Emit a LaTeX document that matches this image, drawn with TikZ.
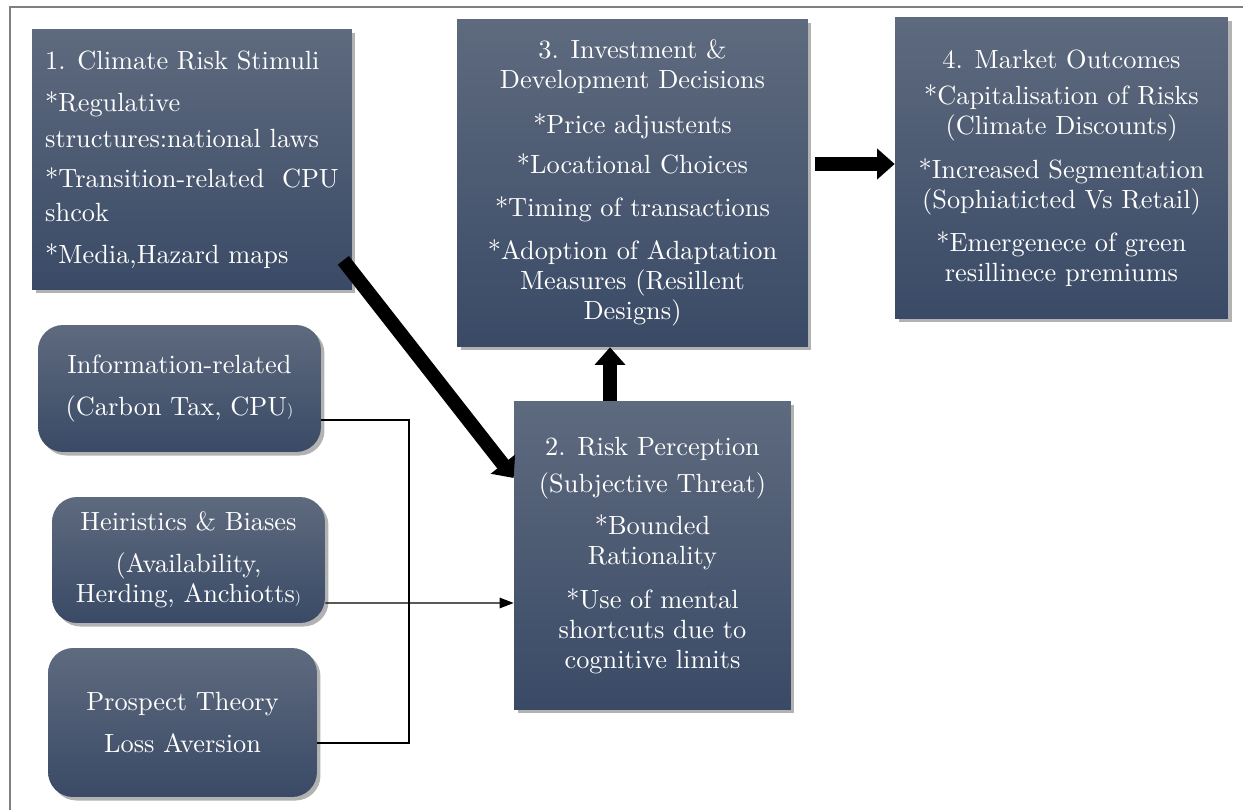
\documentclass[tikz,border=0pt]{standalone}
\usepackage{fontspec}
\setmainfont{lmroman10-regular.otf}
\usetikzlibrary{arrows.meta, positioning, calc, shadows}
\definecolor{boxtop}{HTML}{5E6A7E}
\definecolor{boxbot}{HTML}{3A4A66}
\definecolor{framegray}{HTML}{7F7F7F}
\newcommand{\smallparen}{{\fontsize{9}{9}\selectfont )}}

\begin{document}
\begin{tikzpicture}[
		x=0.02cm, y=-0.02cm,
		stage/.style={rectangle, top color=boxtop, bottom color=boxbot, text=white, align=center, inner sep=0pt, font=\rmfamily\fontsize{15}{17}\selectfont, drop shadow={shadow xshift=2pt, shadow yshift=-2pt, fill=black, opacity=0.3}},
		factor/.style={stage, rounded corners=0.5cm},
		fat/.style={line width=8pt, -{Triangle[length=10pt, width=17pt]}},
		link/.style={line width=0.7pt},
		>={Triangle[length=8pt, width=6pt]}
		]
		\useasboundingbox (0,0) rectangle (1243,810);
		\draw[framegray, line width=0.8pt] (10,810) -- (10,7) -- (1243,7);
		
		% main stages
		\node[stage, align=left, minimum width=6.4cm, minimum height=5.22cm] (stimuli) at (192,159.5) {1. Climate Risk Stimuli\\[7pt] *Regulative\\[3.5pt] structures:national laws\\[6pt] *Transition-related\ \ CPU\\[2pt] shcok\\[7pt] *Media,Hazard maps};
		\node[stage, minimum width=7.02cm, minimum height=6.56cm] (decide) at (632.5,183) {3. Investment \&\\ Development Decisions\\[8.5pt] *Price adjustents\\[6pt] *Locational Choices\\[7.5pt] *Timing of transactions\\[7.5pt] *Adoption of Adaptation\\ Measures (Resillent\\ Designs)};
		\node[stage, minimum width=6.66cm, minimum height=6.04cm] (market) at (1061.5,168) {4. Market Outcomes\\[3.5pt] *Capitalisation of Risks\\ (Climate Discounts)\\[8pt] *Increased Segmentation\\ (Sophiaticted Vs Retail)\\[7.5pt] *Emergenece of green\\ resillinece premiums};
		\node[stage, minimum width=5.54cm, minimum height=6.18cm] (percept) at (652.5,555.5) {2. Risk Perception\\[4pt] (Subjective Threat)\\[7pt] *Bounded\\ Rationality\\[8.5pt] *Use of mental\\ shortcuts due to\\ cognitive limits};
		
		% behavioural factors
		\node[factor, minimum width=5.66cm, minimum height=2.54cm] (info) at (179.5,388.5) {Information-related\\[6.5pt] (Carbon Tax, CPU\smallparen};
		\node[factor, minimum width=5.46cm, minimum height=2.52cm] (heur) at (188.5,560) {Heiristics \& Biases\\[7pt] (Availability,\\ Herding, Anchiotts\smallparen};
		\node[factor, minimum width=5.38cm, minimum height=2.98cm] (prosp) at (182.5,722.5) {Prospect Theory\\[7pt] Loss Aversion};
		
		\coordinate (join) at (409,603);
		\draw[link] ([yshift=-0.63cm]info.east) -| (join);
		\draw[link] ([yshift=-0.41cm]prosp.east) -| (join);
		\draw[link, ->] ([yshift=-0.86cm]heur.east) -- (join -| percept.west);
		
		% flow arrows
		\draw[fat] ([xshift=-0.18cm, yshift=0.6cm]stimuli.south east) -- ([yshift=1.55cm]percept.west);
		\coordinate (up) at ([xshift=-0.85cm]percept.north);
		\draw[fat] (up) -- (up |- decide.south);
		\coordinate (rt) at ([yshift=0.38cm]decide.east);
		\draw[fat] ([xshift=4pt]rt) -- (rt -| market.west);
\end{tikzpicture}
\end{document}
